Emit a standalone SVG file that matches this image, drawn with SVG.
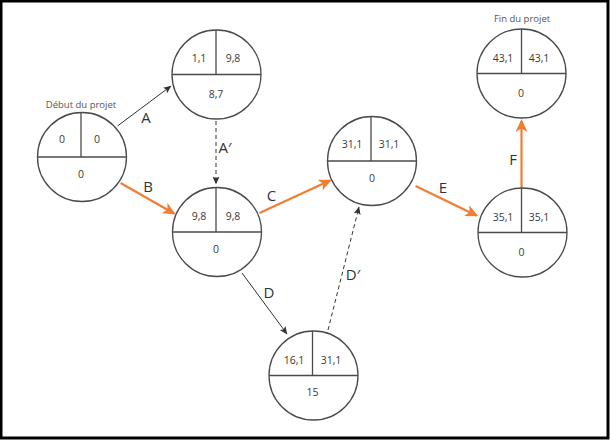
<svg xmlns="http://www.w3.org/2000/svg" width="610" height="440" viewBox="0 0 610 440">
<style>
.n circle{fill:#fff;stroke:#4a4a4a;stroke-width:1.3}
.n line{stroke:#4a4a4a;stroke-width:1.3}
.v{font-family:"Open Sans","Liberation Sans",sans-serif;font-size:10.5px;fill:#3a3a3a;text-anchor:middle;dominant-baseline:central}
.t{font-family:"Open Sans","Liberation Sans",sans-serif;font-size:9.5px;fill:#555;text-anchor:middle;dominant-baseline:central}
.l{font-family:"Open Sans","Liberation Sans",sans-serif;font-size:15px;fill:#333;text-anchor:middle;dominant-baseline:central}
.o{stroke:#f07d32;stroke-width:2.2;fill:none}
.k{stroke:#333;stroke-width:1;fill:none}
.d{stroke:#333;stroke-width:1;fill:none;stroke-dasharray:4,3}
</style>
<defs>
<marker id="ao" markerUnits="userSpaceOnUse" markerWidth="14" markerHeight="12" refX="11" refY="6" orient="auto">
<path d="M0,0 L13,6 L0,12 L3.5,6 z" fill="#f07d32"/>
</marker>
<marker id="ak" markerUnits="userSpaceOnUse" markerWidth="9" markerHeight="8" refX="7.5" refY="3.5" orient="auto">
<path d="M0,0 L8,3.5 L0,7 L1.8,3.5 z" fill="#333"/>
</marker>
</defs>
<rect x="0" y="0" width="610" height="440" fill="#fff"/>
<rect x="1" y="1" width="607" height="437" fill="none" stroke="#000" stroke-width="3"/>
<g id="connectors">
<line class="k" x1="117.5" y1="126" x2="171" y2="86" marker-end="url(#ak)"/>
<line class="d" x1="216" y1="121" x2="216" y2="184" marker-end="url(#ak)"/>
<line class="o" x1="120.6" y1="183" x2="174" y2="213.5" marker-end="url(#ao)"/>
<line class="o" x1="259.5" y1="213" x2="330" y2="180.5" marker-end="url(#ao)"/>
<line class="k" x1="242" y1="273" x2="287" y2="334" marker-end="url(#ak)"/>
<line class="d" x1="328" y1="330" x2="359" y2="207" marker-end="url(#ak)"/>
<line class="o" x1="415.6" y1="186" x2="476.5" y2="215.5" marker-end="url(#ao)"/>
<line class="o" x1="521.5" y1="188" x2="521.5" y2="121" marker-end="url(#ao)"/>
<text class="l" x="146" y="117">A</text>
<text class="l" x="225" y="147">A′</text>
<text class="l" x="148" y="186">B</text>
<text class="l" x="271.5" y="195">C</text>
<text class="l" x="269" y="292">D</text>
<text class="l" x="353" y="274">D′</text>
<text class="l" x="443" y="187">E</text>
<text class="l" x="513" y="159">F</text>
</g>
<g id="start" class="n">
<text class="t" x="81" y="104">Début du projet</text>
<circle cx="82" cy="157" r="44.5"/>
<line x1="37.5" y1="157" x2="126.5" y2="157"/>
<line x1="81" y1="112.5" x2="81" y2="157"/>
<text class="v" x="62" y="139">0</text>
<text class="v" x="97" y="139">0</text>
<text class="v" x="81" y="174">0</text>
</g>
<g id="nodeA" class="n">
<circle cx="216.5" cy="74.5" r="44.5"/>
<line x1="172" y1="74.5" x2="261" y2="74.5"/>
<line x1="216" y1="30" x2="216" y2="74.5"/>
<text class="v" x="199" y="58">1,1</text>
<text class="v" x="233" y="58">9,8</text>
<text class="v" x="216" y="94">8,7</text>
</g>
<g id="nodeB" class="n">
<circle cx="217" cy="232" r="44.5"/>
<line x1="172.5" y1="232" x2="261.5" y2="232"/>
<line x1="216" y1="187.5" x2="216" y2="232"/>
<text class="v" x="199" y="216">9,8</text>
<text class="v" x="233" y="216">9,8</text>
<text class="v" x="216" y="249">0</text>
</g>
<g id="nodeC" class="n">
<circle cx="372" cy="161" r="44.5"/>
<line x1="327.5" y1="161" x2="416.5" y2="161"/>
<line x1="371" y1="116.5" x2="371" y2="161"/>
<text class="v" x="352" y="144">31,1</text>
<text class="v" x="389" y="144">31,1</text>
<text class="v" x="372" y="178">0</text>
</g>
<g id="nodeD" class="n">
<circle cx="313.5" cy="375.5" r="44.5"/>
<line x1="269" y1="375.5" x2="358" y2="375.5"/>
<line x1="312.5" y1="331" x2="312.5" y2="375.5"/>
<text class="v" x="294" y="360">16,1</text>
<text class="v" x="331" y="360">31,1</text>
<text class="v" x="312.5" y="392">15</text>
</g>
<g id="nodeE" class="n">
<circle cx="522.5" cy="232.5" r="44.5"/>
<line x1="478" y1="232.5" x2="567" y2="232.5"/>
<line x1="521.5" y1="188" x2="521.5" y2="232.5"/>
<text class="v" x="503" y="217">35,1</text>
<text class="v" x="539" y="217">35,1</text>
<text class="v" x="521.5" y="252">0</text>
</g>
<g id="fin" class="n">
<text class="t" x="522" y="18">Fin du projet</text>
<circle cx="521.5" cy="73.5" r="44.5"/>
<line x1="477" y1="73.5" x2="566" y2="73.5"/>
<line x1="521.5" y1="29" x2="521.5" y2="73.5"/>
<text class="v" x="503" y="58">43,1</text>
<text class="v" x="539" y="58">43,1</text>
<text class="v" x="521" y="93">0</text>
</g>
</svg>
